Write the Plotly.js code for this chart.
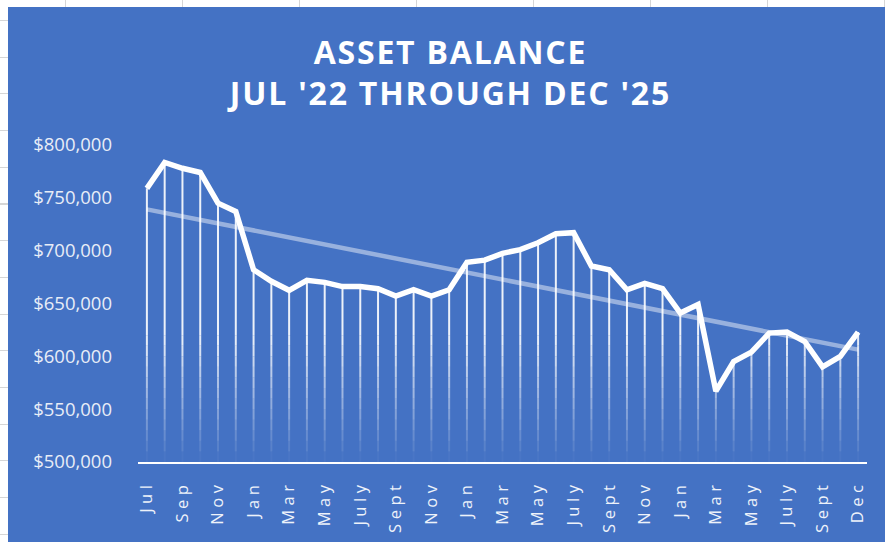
<!DOCTYPE html>
<html>
<head>
<meta charset="utf-8">
<script src="https://cdn.plot.ly/plotly-3.0.1.min.js"></script>
<style>
  html, body { margin: 0; padding: 0; }
  body {
    width: 885px; height: 542px; overflow: hidden; position: relative;
    background-color: #ffffff;
    background-image:
      repeating-linear-gradient(90deg, #d6d6d6 0px, #d6d6d6 1px, transparent 1px, transparent 117px),
      repeating-linear-gradient(180deg, #d6d6d6 0px, #d6d6d6 1px, transparent 1px, transparent 36.7px);
    background-position: 65px 0px, 0px 20px;
  }
  #chart { position: absolute; left: 8px; top: 7px; width: 877px; height: 535px; }
  .gtitle { letter-spacing: 1.8px; }
  .xtick text { letter-spacing: 4.5px; }
</style>
</head>
<body>
<div id="chart"></div>
<script>
// Monthly asset balance, Jul '22 .. Dec '25 (41 plotted points)
const balance = [
  759000, 783500, 778000, 774000, 745000, 737000, 682000, 671000, 662500, 672000,
  670000, 666000, 666000, 664000, 657000, 663000, 657000, 663000, 689000, 691000,
  697500, 701000, 707500, 716000, 717000, 685500, 682000, 663000, 669000, 664000,
  641000, 649000, 567000, 595000, 604000, 622000, 623000, 614000, 590000, 600000,
  623000
];
// Tick labels shown on every other point
const tickLabels = ['Jul','Sep','Nov','Jan','Mar','May','July','Sept','Nov','Jan',
  'Mar','May','July','Sept','Nov','Jan','Mar','May','July','Sept','Dec'];
const yTicks = [500000, 550000, 600000, 650000, 700000, 750000, 800000];

const idx = balance.map((_, i) => i);
const tickVals = tickLabels.map((_, k) => k * 2);

// Linear trendline (least squares), like Excel's trendline
const n = balance.length;
const mx = idx.reduce((a, b) => a + b, 0) / n;
const my = balance.reduce((a, b) => a + b, 0) / n;
let sxy = 0, sxx = 0;
idx.forEach((x, i) => { sxy += (x - mx) * (balance[i] - my); sxx += (x - mx) * (x - mx); });
const slope = sxy / sxx, icpt = my - slope * mx;
const trendX = [idx[0], idx[n - 1]];
const trendY = trendX.map(x => icpt + slope * x);

// Drop lines with a fading gradient toward the axis
const base = 500000, fadeTop = 620000, step = 10000;
const traces = [];
function dropTrace(lo, hi, alpha) {
  const xs = [], ys = [];
  balance.forEach((v, i) => {
    if (v > lo) { xs.push(i, i, null); ys.push(lo, Math.min(v, hi), null); }
  });
  return { x: xs, y: ys, mode: 'lines', type: 'scatter', hoverinfo: 'skip',
    line: { color: 'rgba(255,255,255,' + alpha.toFixed(3) + ')', width: 2 }, showlegend: false };
}
for (let lo = base; lo < fadeTop; lo += step) {
  const a = 0.9 * ((lo + step / 2) - base) / (fadeTop - base);
  traces.push(dropTrace(lo, lo + step, a));
}
traces.push(dropTrace(fadeTop, 1e9, 0.9));

traces.push({ x: trendX, y: trendY, mode: 'lines', type: 'scatter', hoverinfo: 'skip',
  line: { color: 'rgba(255,255,255,0.45)', width: 4.5 }, showlegend: false });
traces.push({ x: idx, y: balance, mode: 'lines', type: 'scatter', name: 'Asset Balance',
  line: { color: '#ffffff', width: 5.5 }, showlegend: false });

const layout = {
  width: 877, height: 535,
  margin: { l: 130, r: 18, t: 138, b: 80 },
  paper_bgcolor: '#4472C4', plot_bgcolor: 'rgba(0,0,0,0)',
  font: { family: '"Open Sans", sans-serif', color: '#ffffff' },
  title: {
    text: 'ASSET BALANCE<br>JUL \'22 THROUGH DEC \'25',
    font: { family: '"Open Sans", sans-serif', size: 32, weight: 700, color: '#ffffff' },
    x: 0.5045, xref: 'container', xanchor: 'center',
    y: 0.894, yref: 'container', yanchor: 'top'
  },
  xaxis: {
    range: [-0.5, n - 0.5], tickmode: 'array', tickvals: tickVals, ticktext: tickLabels,
    tickangle: -90, showgrid: false, zeroline: false, showline: true,
    linecolor: '#ffffff', linewidth: 2, ticks: '', ticklabelstandoff: 10,
    tickfont: { size: 16.5, color: '#eef2fa' }, fixedrange: true
  },
  yaxis: {
    range: [500000, 800000], tickmode: 'array', tickvals: yTicks, tickformat: '$,.0f',
    showgrid: false, zeroline: false, showline: false, ticks: '', ticklabelstandoff: 25,
    tickfont: { size: 18.5, color: '#e8edf7' }, fixedrange: true
  },
  showlegend: false
};

Plotly.newPlot('chart', traces, layout, { displayModeBar: false, staticPlot: true });
</script>
</body>
</html>
